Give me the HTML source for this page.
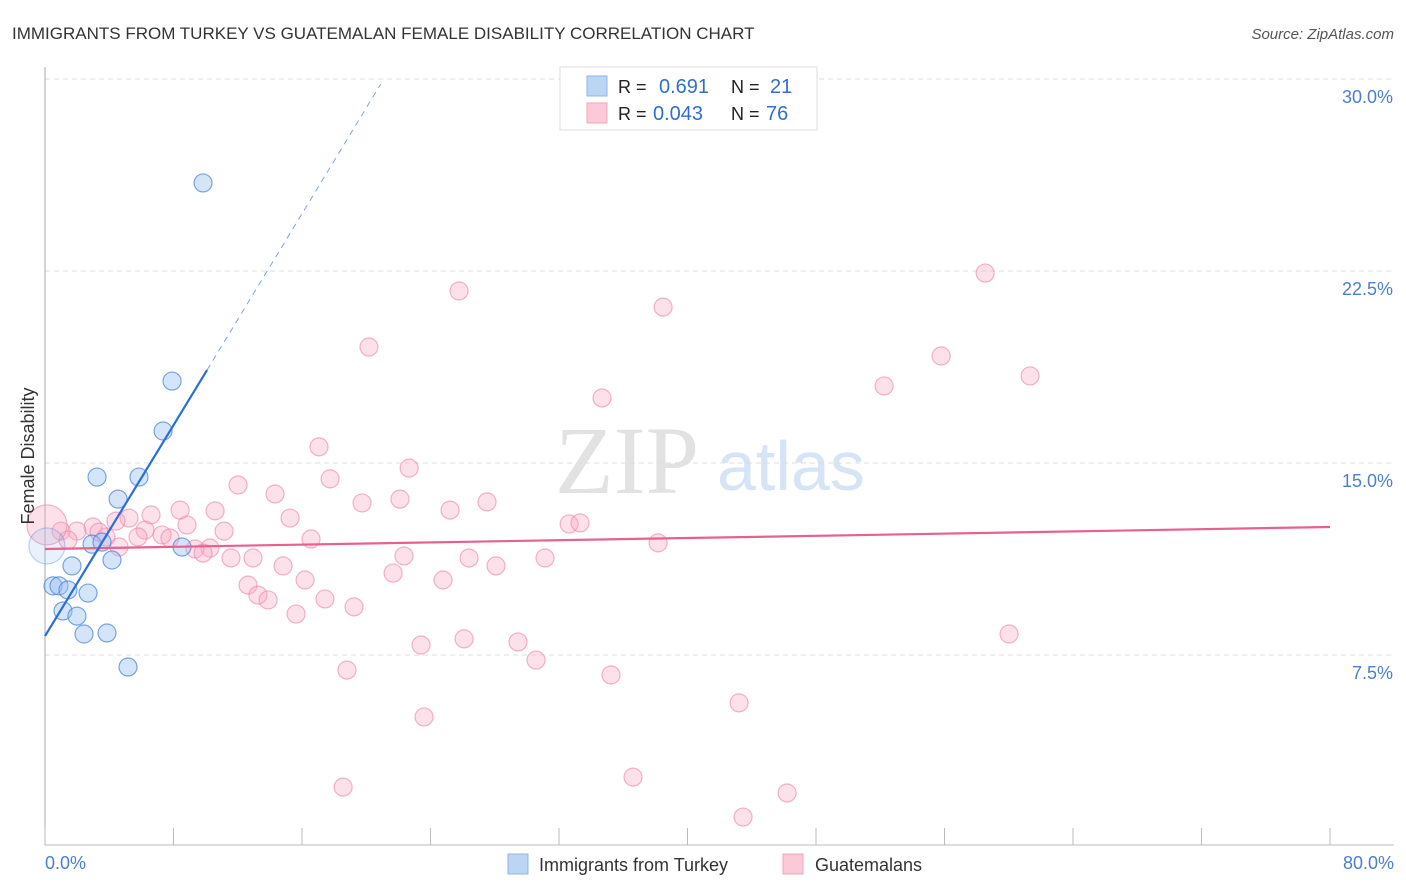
<!DOCTYPE html>
<html><head><meta charset="utf-8"><style>
body{margin:0;background:#fff;font-family:"Liberation Sans",sans-serif}
svg{display:block}
</style></head><body>
<svg id="chart" width="1406" height="892">
<text x="12" y="39" font-size="17" fill="#333">IMMIGRANTS FROM TURKEY VS GUATEMALAN FEMALE DISABILITY CORRELATION CHART</text>
<text x="1394" y="39" font-size="15" fill="#555" font-style="italic" text-anchor="end">Source: ZipAtlas.com</text>
<text x="555" y="493" font-size="96" fill="#e2e2e2" font-family="Liberation Serif,serif">ZIP</text>
<text x="717" y="490" font-size="70" fill="#d6e4f5">atlas</text>
<g id="grid"></g>
<g id="axes"></g>
<g id="marks"></g>
<text transform="translate(34,456) rotate(-90)" font-size="18" fill="#333" text-anchor="middle">Female Disability</text>
<text x="45" y="869" font-size="18" fill="#4a7fd0">0.0%</text>
<text x="1394" y="869" font-size="18" fill="#4a7fd0" text-anchor="end">80.0%</text>
<g>
<rect x="560" y="67" width="257" height="63" fill="#fff" stroke="#ddd"/>
<rect x="587" y="76" width="20" height="20" fill="#bcd5f5" stroke="#8fb4e6"/>
<rect x="587" y="103" width="20" height="20" fill="#fcc9d8" stroke="#f3a4bc"/>
<text x="618" y="93" font-size="18" fill="#222">R = </text><text x="659" y="93" font-size="20" fill="#2f6fd0">0.691</text>
<text x="731" y="93" font-size="18" fill="#222">N = </text><text x="770" y="93" font-size="20" fill="#2f6fd0">21</text>
<text x="618" y="120" font-size="18" fill="#222">R = </text><text x="653" y="120" font-size="20" fill="#2f6fd0">0.043</text>
<text x="731" y="120" font-size="18" fill="#222">N = </text><text x="766" y="120" font-size="20" fill="#2f6fd0">76</text>
</g>
<g>
<rect x="508" y="854" width="20" height="20" fill="#bcd5f5" stroke="#8fb4e6"/>
<text x="539" y="871" font-size="18" fill="#333">Immigrants from Turkey</text>
<rect x="783" y="854" width="20" height="20" fill="#fcc9d8" stroke="#f3a4bc"/>
<text x="815" y="871" font-size="18" fill="#333">Guatemalans</text>
</g>
</svg>
<script>
const yTicks=[7.5,15,22.5,30];
const yTickLabels=["7.5%","15.0%","22.5%","30.0%"];
const xTicks=[0,8,16,24,32,40,48,56,64,72,80];
const blueX=[9.84,7.91,7.35,3.24,5.85,4.55,2.93,3.55,8.53,4.17,1.68,0.50,0.87,1.43,2.68,1.12,1.99,2.43,3.86,5.17,0.12];
const blueY=[25.94,18.20,16.25,14.45,14.45,13.59,11.83,11.91,11.72,11.21,10.98,10.20,10.20,10.04,9.92,9.22,9.02,8.32,8.36,7.03,11.76];
const blueBig=[0,0,0,0,0,0,0,0,0,0,0,0,0,0,0,0,0,0,0,0,1];
const pinkX=[58.53,25.78,38.48,20.17,55.79,61.33,52.24,34.68,17.06,22.67,17.75,12.02,14.32,27.52,19.74,22.10,8.41,10.59,25.22,6.60,15.26,5.23,32.63,33.31,8.84,2.99,4.42,1.00,1.99,6.23,11.15,7.29,3.80,5.79,7.78,16.56,38.17,4.61,10.27,9.34,9.84,22.35,26.40,31.13,11.58,12.95,14.82,28.08,21.67,16.19,24.78,12.64,13.26,13.89,17.43,19.24,15.63,60.02,23.41,26.09,29.45,30.57,18.80,35.24,43.21,23.60,36.61,18.56,46.20,43.46,1.43,3.36,0.12];
const pinkY=[22.42,21.72,21.09,19.53,19.18,18.40,18.01,17.54,15.63,14.80,14.38,14.14,13.79,13.48,13.44,13.59,13.16,13.13,13.16,12.97,12.85,12.85,12.62,12.66,12.58,12.50,12.73,12.34,12.34,12.38,12.34,12.19,12.11,12.11,12.07,12.03,11.88,11.72,11.68,11.64,11.48,11.37,11.29,11.29,11.29,11.29,10.98,10.98,10.70,10.43,10.43,10.23,9.84,9.65,9.69,9.38,9.10,8.32,7.89,8.13,8.01,7.30,6.91,6.72,5.63,5.08,2.73,2.34,2.11,1.17,11.99,12.30,12.58];
const blueTrend=[0,8.24,10.09,18.63,20.9,29.8];
const pinkTrend=[0,11.64,80,12.50];
const NS="http://www.w3.org/2000/svg";
const xs=v=>45+v*1285/80;
const ys=v=>655-(v-7.5)*25.6;
function mk(tag,attrs,parent){const e=document.createElementNS(NS,tag);for(const k in attrs)e.setAttribute(k,attrs[k]);document.getElementById(parent).appendChild(e);return e;}
yTicks.forEach((t,i)=>{
 const g=mk('line',{x1:45,x2:1394,y1:ys(t),y2:ys(t),stroke:'#ddd','stroke-dasharray':'5,4'},'grid');
 
 
 const l=mk('text',{x:1393,y:ys(t)+24,'font-size':18,fill:'#4a7fd0','text-anchor':'end'},'grid');
 l.textContent=yTickLabels[i];
 
 
});
const ax=mk('line',{x1:45,x2:45,y1:67,y2:845,stroke:'#aaa'},'axes');


const bx=mk('line',{x1:45,x2:1394,y1:845,y2:845,stroke:'#bbb'},'axes');


xTicks.forEach(t=>{
 const k=mk('line',{x1:xs(t),x2:xs(t),y1:828,y2:845,stroke:'#bbb'},'axes');
 
 
});
pinkX.forEach((v,i)=>{
 const big=i===pinkX.length-1;
 const c=mk('circle',{cx:xs(v),cy:ys(pinkY[i]),r:big?20:9,fill:'rgba(248,170,195,0.35)',stroke:'rgba(235,130,165,0.6)','stroke-width':1.2},'marks');
 
 
});
blueX.forEach((v,i)=>{
 const big=blueBig[i]===1;
 const c=mk('circle',{cx:xs(v),cy:ys(blueY[i]),r:big?18:9,fill:big?'rgba(150,190,240,0.22)':'rgba(150,190,240,0.4)',stroke:big?'rgba(70,130,215,0.35)':'rgba(70,130,215,0.7)','stroke-width':1.2},'marks');
 
 
});
const pl=mk('line',{x1:xs(pinkTrend[0]),y1:ys(pinkTrend[1]),x2:xs(pinkTrend[2]),y2:ys(pinkTrend[3]),stroke:'#e8608e','stroke-width':2.2},'marks');


const bl=mk('line',{x1:xs(blueTrend[0]),y1:ys(blueTrend[1]),x2:xs(blueTrend[2]),y2:ys(blueTrend[3]),stroke:'#2a6fd6','stroke-width':2.2},'marks');


const bd=mk('line',{x1:xs(blueTrend[2]),y1:ys(blueTrend[3]),x2:xs(blueTrend[4]),y2:ys(blueTrend[5]),stroke:'#7aa6e6','stroke-width':1,'stroke-dasharray':'6,5'},'marks');


</script>
</body></html>
